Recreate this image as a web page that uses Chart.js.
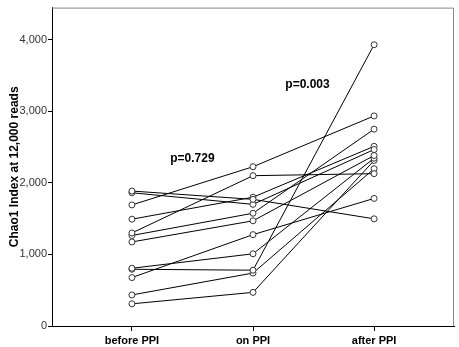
<!DOCTYPE html>
<html>
<head>
<meta charset="utf-8">
<script src="https://cdn.jsdelivr.net/npm/chart.js@4/dist/chart.umd.min.js"></script>
<style>
  html, body { margin: 0; padding: 0; background: #fff; }
  #wrap { width: 459px; height: 347px; position: relative; }
</style>
</head>
<body>
<div id="wrap"><canvas id="c" width="459" height="347"></canvas></div>
<script>
// Categories (x positions 0,1,2)
const categories = ["before PPI", "on PPI", "after PPI"];
// Chao1 index per subject (paired by index)
const beforePPI = [1886, 1862, 1692, 1493, 1300, 1265, 1175, 807, 793, 677, 434, 310];
const onPPI     = [1770, 1700, 2226, 1800, 2101, 1576, 1470, 1009, 780, 1277, 740, 470];
const afterPPI  = [1498, 2466, 2936, 2511, 2129, 2751, 2383, 2345, 3931, 1783, 2198, 2314];
// y ticks
const yTicks = [0, 1000, 2000, 3000, 4000];
// p-value annotations: [text, xCategoryPosition, yValue]
const pLabels = ["p=0.729", "p=0.003"];
const pX = [0.5, 1.45];
const pY = [2340, 3370];

const FONT = "'Liberation Sans', Arial, sans-serif";

const datasets = beforePPI.map((b, i) => ({
  data: [
    { x: 0, y: b },
    { x: 1, y: onPPI[i] },
    { x: 2, y: afterPPI[i] }
  ],
  showLine: true,
  borderColor: '#000',
  borderWidth: 1,
  pointRadius: 3,
  pointBorderWidth: 1,
  pointBorderColor: '#333',
  pointBackgroundColor: '#fff',
  tension: 0
}));

const framePlugin = {
  id: 'frame',
  beforeDatasetsDraw(chart) {
    const { ctx, chartArea: a } = chart;
    ctx.save();
    ctx.strokeStyle = '#888';
    ctx.lineWidth = 1;
    ctx.beginPath();
    ctx.moveTo(a.left, a.top + 0.5);
    ctx.lineTo(a.right - 0.5, a.top + 0.5);
    ctx.lineTo(a.right - 0.5, a.bottom);
    ctx.stroke();
    ctx.restore();
  },
  afterDatasetsDraw(chart) {
    const { ctx, scales } = chart;
    ctx.save();
    ctx.font = "bold 12px " + FONT;
    ctx.fillStyle = '#000';
    ctx.textAlign = 'center';
    ctx.textBaseline = 'middle';
    pLabels.forEach((t, i) => {
      ctx.fillText(t, scales.x.getPixelForValue(pX[i]), scales.y.getPixelForValue(pY[i]));
    });
    ctx.restore();
  }
};

new Chart(document.getElementById('c'), {
  type: 'scatter',
  data: { datasets },
  options: {
    responsive: false,
    animation: false,
    devicePixelRatio: 1,
    layout: { padding: { top: 4, right: 5, left: 0, bottom: 0 } },
    plugins: { legend: { display: false }, tooltip: { enabled: false } },
    scales: {
      x: {
        type: 'linear',
        min: -0.66,
        max: 2.66,
        afterBuildTicks(s) { s.ticks = [0, 1, 2].map(v => ({ value: v })); },
        afterFit(s) { s.height = 21; },
        ticks: {
          autoSkip: false,
          maxRotation: 0,
          padding: 3,
          color: '#000',
          font: { family: FONT, size: 11, weight: 'bold' },
          callback: (v) => categories[v]
        },
        grid: { drawOnChartArea: false, drawTicks: true, tickLength: 5, color: '#000' },
        border: { display: true, color: '#000', width: 1 }
      },
      y: {
        type: 'linear',
        min: 0,
        max: 4450,
        afterBuildTicks(s) { s.ticks = yTicks.map(v => ({ value: v })); },
        afterFit(s) { s.width = 52; },
        ticks: {
          padding: 1,
          color: '#333',
          font: { family: FONT, size: 11 },
          callback: (v) => v.toLocaleString('en-US')
        },
        title: {
          display: true,
          text: 'Chao1 Index at 12,000 reads',
          color: '#000',
          font: { family: FONT, size: 12, weight: 'bold' },
          padding: { top: 7, bottom: 0 }
        },
        grid: { drawOnChartArea: false, drawTicks: true, tickLength: 4, color: '#000' },
        border: { display: true, color: '#000', width: 1 }
      }
    }
  },
  plugins: [framePlugin]
});
</script>
</body>
</html>
